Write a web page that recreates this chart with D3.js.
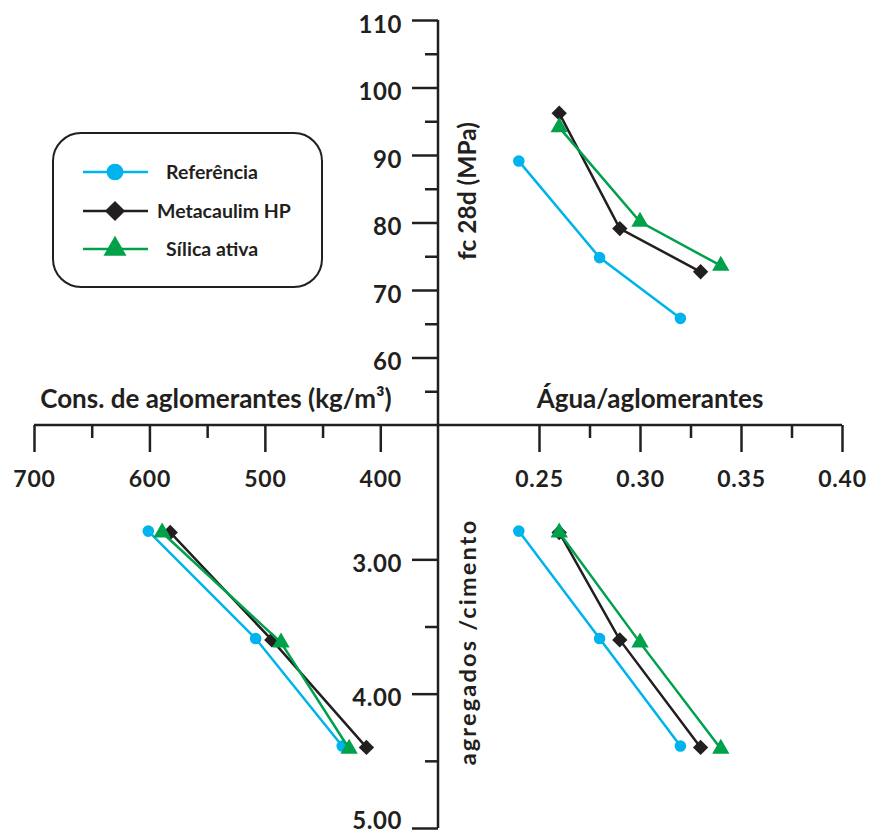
<!DOCTYPE html>
<html><head><meta charset="utf-8">
<script src="https://cdn.jsdelivr.net/npm/d3@7"></script>
<style>html,body{margin:0;padding:0;background:#fff;}svg{display:block;font-family:Lato,"Open Sans",sans-serif;}</style>
</head><body><svg id="c" width="887" height="838"></svg>
<script>
// ---- data ----
const seriesNames = ["Referência", "Metacaulim HP", "Sílica ativa"];
const aguaAgl = {           // água/aglomerantes
  "Referência":   [0.24, 0.28, 0.32],
  "Metacaulim HP":[0.26, 0.29, 0.33],
  "Sílica ativa": [0.26, 0.30, 0.34]
};
const fc28 = {              // fc 28d (MPa)
  "Referência":   [89.1, 74.8, 65.8],
  "Metacaulim HP":[96.2, 79.1, 72.7],
  "Sílica ativa": [94.1, 80.1, 73.6]
};
const aggCem = {            // agregados/cimento
  "Referência":   [2.79, 3.59, 4.39],
  "Metacaulim HP":[2.80, 3.60, 4.40],
  "Sílica ativa": [2.80, 3.62, 4.41]
};
const consAgl = {           // consumo de aglomerantes (kg/m³)
  "Referência":   [601, 508, 433],
  "Metacaulim HP":[582, 494, 412],
  "Sílica ativa": [589, 486, 427]
};
const fcTicks = [60, 70, 80, 90, 100, 110];
const fcMinor = [55, 65, 75, 85, 95, 105];
const acTicks = [3, 4, 5];
const acMinor = [3.5, 4.5];
const consTicks = [700, 600, 500, 400];
const consMinor = [650, 550, 450];
const waTicks = [0.25, 0.30, 0.35, 0.40];
const waMinor = [0.275, 0.325, 0.375];

// ---- styles ----
const colors = {"Referência":"#00b3ec", "Metacaulim HP":"#231f20", "Sílica ativa":"#00a14b"};
const shapes = {"Referência":d3.symbolCircle, "Metacaulim HP":d3.symbolDiamond2, "Sílica ativa":d3.symbolTriangle};
const sizes = {"Referência":105, "Metacaulim HP":150, "Sílica ativa":130};
const ink = "#231f20";

const svg = d3.select("#c");
const X0 = 438, Y0 = 425;
const yTop = d3.scaleLinear().domain([50, 110]).range([Y0, 20]);
const yBot = d3.scaleLinear().domain([2, 5]).range([Y0, 828]);
const xLeft = d3.scaleLinear().domain([350, 700]).range([X0, 34]);
const xRight = d3.scaleLinear().domain([0.20, 0.40]).range([X0, 842]);

const g = svg.append("g");

// vertical axis line
g.append("line").attr("x1", X0).attr("x2", X0).attr("y1", yTop(110)).attr("y2", yBot(5))
  .attr("stroke", ink).attr("stroke-width", 2.5);
// horizontal axis line
g.append("line").attr("x1", xLeft(700)).attr("x2", xRight(0.40)).attr("y1", Y0).attr("y2", Y0)
  .attr("stroke", ink).attr("stroke-width", 2.5);

// top axis (fc)
const aTop = d3.axisLeft(yTop).tickValues(fcTicks).tickSize(26).tickPadding(10).tickFormat(d3.format("d"));
const gTop = g.append("g").attr("transform", `translate(${X0},0)`).call(aTop);
const aTopMin = d3.axisLeft(yTop).tickValues(fcMinor).tickSize(13).tickFormat("");
const gTopMin = g.append("g").attr("transform", `translate(${X0},0)`).call(aTopMin);

// bottom axis (agg/cement)
const aBot = d3.axisLeft(yBot).tickValues(acTicks).tickSize(26).tickPadding(10).tickFormat(d3.format(".2f"));
const gBot = g.append("g").attr("transform", `translate(${X0},0)`).call(aBot);
const aBotMin = d3.axisLeft(yBot).tickValues(acMinor).tickSize(13).tickFormat("");
const gBotMin = g.append("g").attr("transform", `translate(${X0},0)`).call(aBotMin);

// left axis (consumption)
const aL = d3.axisBottom(xLeft).tickValues(consTicks).tickSize(27).tickPadding(16).tickFormat(d3.format("d"));
const gL = g.append("g").attr("transform", `translate(0,${Y0})`).call(aL);
const aLMin = d3.axisBottom(xLeft).tickValues(consMinor).tickSize(13).tickFormat("");
const gLMin = g.append("g").attr("transform", `translate(0,${Y0})`).call(aLMin);

// right axis (a/agl)
const aR = d3.axisBottom(xRight).tickValues(waTicks).tickSize(27).tickPadding(16).tickFormat(d3.format(".2f"));
const gR = g.append("g").attr("transform", `translate(0,${Y0})`).call(aR);
const aRMin = d3.axisBottom(xRight).tickValues(waMinor).tickSize(13).tickFormat("");
const gRMin = g.append("g").attr("transform", `translate(0,${Y0})`).call(aRMin);

[gTop, gTopMin, gBot, gBotMin, gL, gLMin, gR, gRMin].forEach(a => {
  a.select(".domain").remove();
  a.selectAll(".tick line").attr("stroke", ink).attr("stroke-width", 2.5);
  a.selectAll(".tick text").attr("fill", ink).attr("font-family", "Lato, sans-serif")
    .attr("font-weight", "bold");
});
[gTop, gBot].forEach(a => a.selectAll(".tick text").attr("font-size", 24)
  .attr("letter-spacing", 0.6).attr("dy", "0.5em"));
gBot.selectAll(".tick text").filter(d => d === 5).attr("dy", "0.02em");
[gL, gR].forEach(a => a.selectAll(".tick text").attr("font-size", 23)
  .attr("letter-spacing", 0.8).attr("y", 62).attr("dy", 0));

// axis titles
g.append("text").attr("x", 216).attr("y", 408).attr("text-anchor", "middle")
  .attr("font-size", 26).attr("font-weight", "bold").attr("fill", ink)
  .text("Cons. de aglomerantes (kg/m³)");
g.append("text").attr("x", 650).attr("y", 408).attr("text-anchor", "middle")
  .attr("font-size", 26).attr("font-weight", "bold").attr("fill", ink)
  .text("Água/aglomerantes");
g.append("text").attr("transform", "translate(476,191) rotate(-90)").attr("text-anchor", "middle")
  .attr("font-size", 24.5).attr("font-weight", "bold").attr("fill", ink)
  .text("fc 28d (MPa)");
g.append("text").attr("transform", "translate(476,642) rotate(-90)").attr("text-anchor", "middle")
  .attr("font-size", 23.5).attr("font-weight", "bold").attr("fill", ink).attr("letter-spacing", 2.2)
  .text("agregados /cimento");

// data lines & markers
const line = d3.line();
function drawSeries(name, pts) {
  g.append("path").attr("d", line(pts)).attr("fill", "none")
    .attr("stroke", colors[name]).attr("stroke-width", 2.5);
  g.selectAll(null).data(pts).join("path")
    .attr("transform", d => `translate(${d[0]},${d[1]})`)
    .attr("d", d3.symbol().type(shapes[name]).size(sizes[name]))
    .attr("fill", colors[name]);
}
seriesNames.forEach(name => {
  const wa = aguaAgl[name], fc = fc28[name], ac = aggCem[name], cs = consAgl[name];
  drawSeries(name, wa.map((v, i) => [xRight(v), yTop(fc[i])]));
  drawSeries(name, wa.map((v, i) => [xRight(v), yBot(ac[i])]));
  drawSeries(name, cs.map((v, i) => [xLeft(v), yBot(ac[i])]));
});

// legend
const lg = g.append("g");
lg.append("rect").attr("x", 53).attr("y", 133).attr("width", 269).attr("height", 154)
  .attr("rx", 28).attr("ry", 28).attr("fill", "#fff").attr("stroke", ink).attr("stroke-width", 2);
const rowY = [172, 211, 249];
seriesNames.forEach((name, i) => {
  const y = rowY[i];
  lg.append("line").attr("x1", 83).attr("x2", 148).attr("y1", y).attr("y2", y)
    .attr("stroke", colors[name]).attr("stroke-width", 2.5);
  lg.append("path").attr("transform", `translate(115,${y})`)
    .attr("d", d3.symbol().type(shapes[name]).size(name === "Referência" ? 220 : name === "Metacaulim HP" ? 260 : 230))
    .attr("fill", colors[name]);
  lg.append("text").attr("x", name === "Metacaulim HP" ? 157 : 166).attr("y", y).attr("dy", "0.35em")
    .attr("font-size", 19.5).attr("font-weight", "bold").attr("fill", ink).text(name);
});
</script></body></html>
